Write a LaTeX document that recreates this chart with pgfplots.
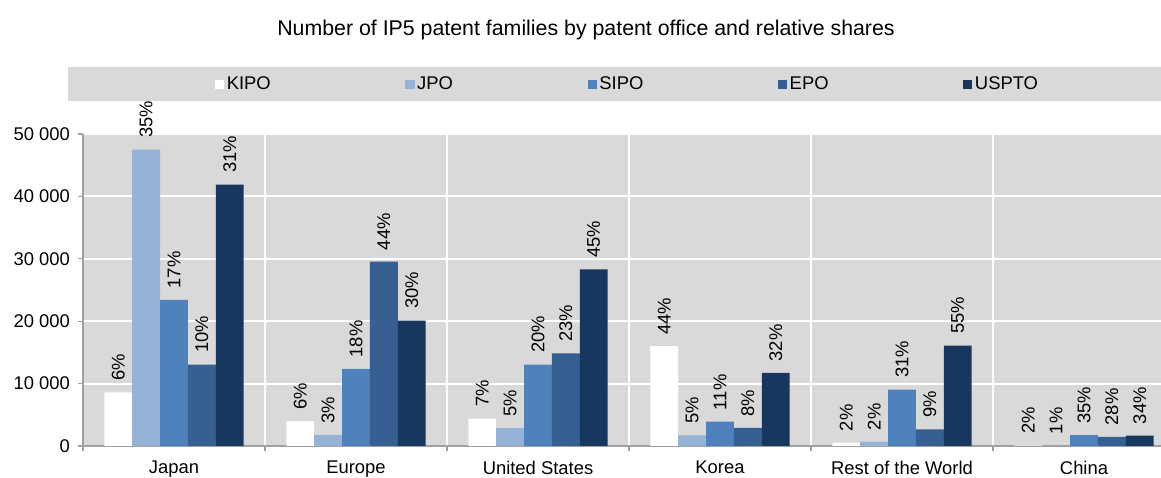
\documentclass[border=0pt]{standalone}
\usepackage{fontspec}
\setmainfont{Liberation Sans}
\usepackage{pgfplots}
\pgfplotsset{compat=1.18}

\definecolor{bggray}{HTML}{D9D9D9}
\definecolor{axgray}{HTML}{A0A0A0}
\definecolor{cKIPO}{HTML}{FFFFFF}
\definecolor{cJPO}{HTML}{95B3D7}
\definecolor{cSIPO}{HTML}{4F81BD}
\definecolor{cEPO}{HTML}{376092}
\definecolor{cUSPTO}{HTML}{17375E}

% x: 0 Japan, 1 Europe, 2 United States, 3 Korea, 4 Rest of the World, 5 China
\pgfplotstableread{
x y lab
0 8600 6\%
1 4000 6\%
2 4400 7\%
3 16000 44\%
4 530 2\%
5 100 2\%
}\kipo
\pgfplotstableread{
x y lab
0 47500 35\%
1 1750 3\%
2 2850 5\%
3 1700 5\%
4 700 2\%
5 50 1\%
}\jpo
\pgfplotstableread{
x y lab
0 23400 17\%
1 12350 18\%
2 13050 20\%
3 3900 11\%
4 9050 31\%
5 1750 35\%
}\sipo
\pgfplotstableread{
x y lab
0 13050 10\%
1 29550 44\%
2 14850 23\%
3 2900 8\%
4 2650 9\%
5 1450 28\%
}\epo
\pgfplotstableread{
x y lab
0 41900 31\%
1 20100 30\%
2 28300 45\%
3 11700 32\%
4 16100 55\%
5 1650 34\%
}\uspto

\newcommand{\lblfont}{\fontsize{13.8}{16}\selectfont}

\begin{document}
\begin{tikzpicture}
\begin{axis}[
  scale only axis,
  width=819pt, height=234pt,
  ybar, bar width=0.153,
  xmin=-0.5, xmax=5.5,
  ymin=0, ymax=50000,
  clip=false,
  axis background/.style={fill=bggray},
  axis x line*=bottom, axis y line*=left,
  axis line style={axgray, line width=0.8pt},
  xtick={0,1,2,3,4,5},
  xticklabels={Japan,Europe,United States,Korea,Rest of the World,China},
  major x tick style={draw=none},
  minor xtick={-0.5,0.5,1.5,2.5,3.5,4.5,5.5},
  minor x tick style={axgray, line width=0.8pt},
  minor tick length=3.8pt,
  xminorgrids=true,
  minor x grid style={white, line width=1.5pt},
  ytick={0,10000,20000,30000,40000,50000},
  ymajorgrids=true,
  major y grid style={white, line width=1.5pt},
  y tick style={axgray, line width=0.8pt},
  major tick length=3.8pt,
  tick align=outside,
  tick label style={font=\lblfont},
  /pgf/number format/assume math mode=true,
  /pgf/number format/1000 sep={\ },
  scaled y ticks=false,
  yticklabel style={xshift=-2.5pt},
  xticklabel style={yshift=-4pt},
  nodes near coords,
  point meta=explicit symbolic,
  nodes near coords style={black, rotate=90, anchor=west, font=\lblfont,
    inner xsep=8.5pt, inner ysep=1pt},
  legend columns=5,
  legend style={
    at={(rel axis cs:0.499,1.160)}, anchor=center,
    draw=none, fill=none,
    font=\lblfont,
    /tikz/every even column/.append style={column sep=99pt},
  },
  legend image code/.code={\fill[#1] (-1.8pt,-3.4pt) rectangle (5pt,3.4pt);},
]
\fill[bggray] (rel axis cs:-0.01374,1.1058) rectangle (rel axis cs:1.0,1.2147);
\coordinate (bbsw) at (rel axis cs:-0.0760,-0.10256);
\coordinate (bbne) at (rel axis cs:0.98718,1.42949);
\node[font=\fontsize{16}{19}\selectfont] at (rel axis cs:0.4606,1.333)
  {Number of IP5 patent families by patent office and relative shares};

\addplot+[draw=none, fill=cKIPO, bar shift=-0.306] table[x=x, y=y, meta=lab] {\kipo};
\addlegendentry{KIPO}
\addplot+[draw=none, fill=cJPO, bar shift=-0.153] table[x=x, y=y, meta=lab] {\jpo};
\addlegendentry{JPO}
\addplot+[draw=none, fill=cSIPO, bar shift=0] table[x=x, y=y, meta=lab] {\sipo};
\addlegendentry{SIPO}
\addplot+[draw=none, fill=cEPO, bar shift=0.153] table[x=x, y=y, meta=lab] {\epo};
\addlegendentry{EPO}
\addplot+[draw=none, fill=cUSPTO, bar shift=0.306] table[x=x, y=y, meta=lab] {\uspto};
\addlegendentry{USPTO}
\end{axis}
\pgfresetboundingbox
\useasboundingbox (bbsw) rectangle (bbne);
\end{tikzpicture}
\end{document}
